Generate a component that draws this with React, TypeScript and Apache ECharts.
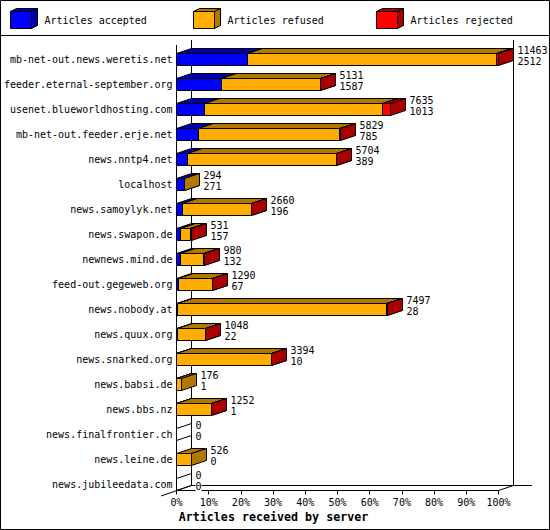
import React, { useEffect, useRef } from "react";
import * as echarts from "echarts";

const servers = [
  "mb-net-out.news.weretis.net",
  "feeder.eternal-september.org",
  "usenet.blueworldhosting.com",
  "mb-net-out.feeder.erje.net",
  "news.nntp4.net",
  "localhost",
  "news.samoylyk.net",
  "news.swapon.de",
  "newnews.mind.de",
  "feed-out.gegeweb.org",
  "news.nobody.at",
  "news.quux.org",
  "news.snarked.org",
  "news.babsi.de",
  "news.bbs.nz",
  "news.finalfrontier.ch",
  "news.leine.de",
  "news.jubileedata.com",
];
const accepted = [2512, 1587, 1013, 785, 389, 271, 196, 157, 132, 67, 28, 22, 10, 1, 1, 0, 0, 0];
const refused = [8891, 3534, 6322, 5034, 5295, 23, 2459, 354, 843, 1218, 7464, 1021, 3379, 175, 1246, 0, 526, 0];
const rejected = [60, 10, 300, 10, 20, 0, 5, 20, 5, 5, 5, 5, 5, 0, 5, 0, 0, 0];
const legendNames = ["Articles accepted", "Articles refused", "Articles rejected"];
const percentTicks = [0, 10, 20, 30, 40, 50, 60, 70, 80, 90, 100];
const axisTitle = "Articles received by server";

const FRONT = ["#0000ff", "#ffad00", "#ff0000"];
const DARK = ["#0000aa", "#b37700", "#aa0000"];
const MONO = '"DejaVu Sans Mono", "Liberation Mono", monospace';
const DX = 15;
const DY = 5;
const HALF = 6;

const totals = accepted.map((a, i) => a + refused[i] + rejected[i]);
const maxTotal = Math.max(...totals);

const snap = (v: number) => Math.round(v - 0.5) + 0.5;

const line = (x1: number, y1: number, x2: number, y2: number, z = 0) => ({
  type: "line",
  silent: true,
  z,
  shape: { x1, y1, x2, y2 },
  style: { stroke: "#000", lineWidth: 1 },
});

const poly = (points: number[][], fill: string, z = 1) => ({
  type: "polygon",
  silent: true,
  z,
  shape: { points },
  style: { fill, stroke: "#000", lineWidth: 1 },
});

const legendBox = (x: number, i: number) => {
  const y0 = 11.5;
  const y1 = 28.5;
  const w = 21;
  const dx = 6;
  const dy = 3;
  return [
    poly([[x, y0], [x + w, y0], [x + w, y1], [x, y1]], FRONT[i]),
    poly([[x, y0], [x + dx, y0 - dy], [x + w + dx, y0 - dy], [x + w, y0]], DARK[i]),
    poly([[x + w, y0], [x + w + dx, y0 - dy], [x + w + dx, y1 - dy], [x + w, y1]], DARK[i]),
    {
      type: "text",
      silent: true,
      z: 1,
      style: {
        x: x + 34,
        y: 20,
        text: legendNames[i],
        fill: "#000",
        font: `10px ${MONO}`,
        align: "left",
        verticalAlign: "middle",
      },
    },
  ];
};

function renderBar(params: any, api: any) {
  const row = params.dataIndex;
  const values = [accepted[row], refused[row], rejected[row]];
  const total = totals[row];
  const toX = (count: number) => snap(api.coord([(count / maxTotal) * 100, row])[0]);
  const cy = api.coord([0, row])[1] - 0.5 + 0.5;
  const yTop = snap(cy - HALF);
  const yBot = yTop + 2 * HALF;
  const x0 = toX(0);
  const children: any[] = [];
  const stroke = { stroke: "#000", lineWidth: 1 };

  if (total === 0) {
    children.push(
      { type: "line", shape: { x1: x0, y1: yTop, x2: x0 + DX, y2: yTop - DY }, style: stroke },
      { type: "line", shape: { x1: x0, y1: yBot, x2: x0 + DX, y2: yBot - DY }, style: stroke }
    );
  }

  let run = 0;
  values.forEach((v, i) => {
    if (v <= 0) return;
    const a = toX(run);
    run += v;
    const b = toX(run);
    children.push(
      {
        type: "polygon",
        shape: { points: [[a, yTop], [a + DX, yTop - DY], [b + DX, yTop - DY], [b, yTop]] },
        style: { fill: DARK[i], ...stroke },
      },
      {
        type: "polygon",
        shape: { points: [[b, yTop], [b + DX, yTop - DY], [b + DX, yBot - DY], [b, yBot]] },
        style: { fill: DARK[i], ...stroke },
      },
      {
        type: "rect",
        shape: { x: a, y: yTop, width: b - a, height: yBot - yTop },
        style: { fill: FRONT[i], ...stroke },
      }
    );
  });

  const tx = toX(total) + 19;
  [String(total), String(values[0])].forEach((t, k) => {
    children.push({
      type: "text",
      style: {
        x: tx,
        y: yTop + (k === 0 ? -3 : 8),
        text: t,
        fill: "#000",
        font: `10px ${MONO}`,
        align: "left",
        verticalAlign: "middle",
        backgroundColor: "#fff",
      },
    });
  });
  return { type: "group", children };
}

export default function App() {
  const ref = useRef<HTMLDivElement>(null);
  useEffect(() => {
    const chart = echarts.init(ref.current!, undefined, { renderer: "svg" });
    chart.setOption({
      animation: false,
      backgroundColor: "#fff",
      title: {
        text: axisTitle,
        left: 273.5,
        top: 510,
        textAlign: "center",
        padding: 0,
        textStyle: { fontFamily: MONO, fontWeight: "bold", fontSize: 11.67, color: "#000", lineHeight: 14 },
      },
      grid: { left: 176.5, top: 47, width: 322, height: 450, containLabel: false },
      xAxis: {
        type: "value",
        min: 0,
        max: 100,
        interval: 10,
        offset: -6.5,
        axisLine: { show: true, lineStyle: { color: "#000", width: 1 } },
        axisTick: { show: true, length: 4, lineStyle: { color: "#000", width: 1 } },
        splitLine: { show: false },
        axisLabel: {
          show: true,
          margin: 7,
          color: "#000",
          fontFamily: MONO,
          fontSize: 10,
          hideOverlap: false,
          formatter: (v: number) => (percentTicks.includes(v) ? `${v}%` : ""),
        },
      },
      yAxis: {
        type: "category",
        inverse: true,
        data: servers,
        axisLine: { show: false },
        axisTick: { show: false },
        axisLabel: { margin: 4, interval: 0, color: "#000", fontFamily: MONO, fontSize: 10 },
      },
      series: [
        {
          type: "custom",
          clip: false,
          z: 5,
          silent: true,
          encode: { x: [1, 2, 3], y: 0 },
          data: servers.map((_, i) => [
            i,
            (accepted[i] / maxTotal) * 100,
            (refused[i] / maxTotal) * 100,
            (rejected[i] / maxTotal) * 100,
          ]),
          renderItem: renderBar,
        },
      ],
      graphic: {
        elements: [
          {
            type: "rect",
            silent: true,
            z: 0,
            shape: { x: 0.5, y: 0.5, width: 549, height: 529 },
            style: { fill: "#fff", stroke: "#000", lineWidth: 1 },
          },
          line(0, 35.5, 550, 35.5),
          line(176.5, 45, 176.5, 490.5),
          line(191.5, 40, 191.5, 485.5),
          line(513.5, 40, 513.5, 485.5),
          line(191.5, 485.5, 532, 485.5),
          line(498.5, 490.5, 513.5, 485.5),
          line(161, 496, 191.5, 485.5),
          ...legendBox(10.5, 0),
          ...legendBox(193.5, 1),
          ...legendBox(376.5, 2),
        ],
      },
    });
    return () => chart.dispose();
  }, []);
  return (
    <div
      ref={ref}
      style={{ position: "absolute", left: 0, top: 0, width: 550, height: 530 }}
    />
  );
}
